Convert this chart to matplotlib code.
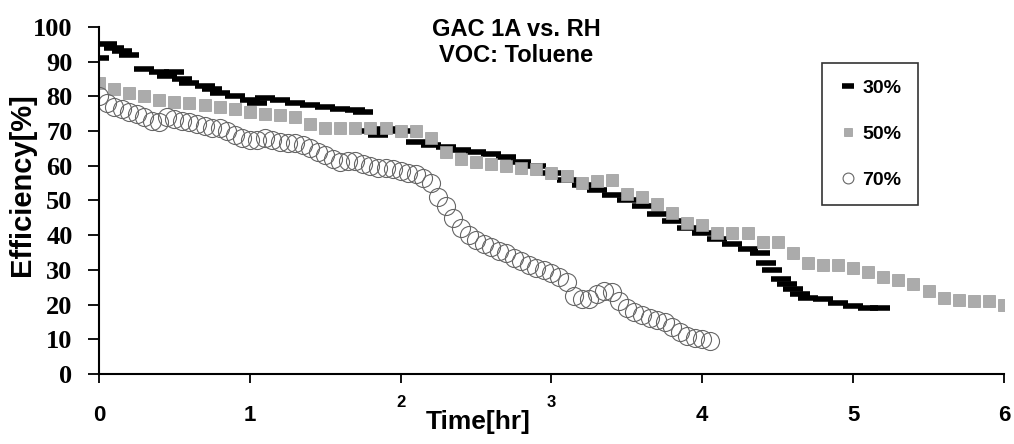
import matplotlib
matplotlib.use("Agg")
import matplotlib.pyplot as plt

# RH 30% - black dashes
t30 = [0.00, 0.05, 0.10, 0.15, 0.20, 0.30, 0.40, 0.45, 0.50, 0.55, 0.60, 0.70,
       0.75, 0.80, 0.90, 1.00, 1.05, 1.10, 1.20, 1.30, 1.40, 1.50, 1.60, 1.70,
       1.75, 1.80, 1.85, 1.90, 2.00, 2.10, 2.20, 2.30, 2.40, 2.50, 2.60, 2.70,
       2.80, 2.90, 3.00, 3.10, 3.20, 3.30, 3.40, 3.50, 3.60, 3.70, 3.80, 3.90,
       4.00, 4.10, 4.20, 4.30, 4.38, 4.42, 4.46, 4.52, 4.56, 4.60, 4.65, 4.70,
       4.80, 4.90, 5.00, 5.10, 5.18]
eff30 = [91, 95, 94, 93, 92, 88, 87, 86, 87, 85, 84, 83,
         82, 81, 80, 79, 78, 79.5, 79, 78, 77.5, 77, 76.5, 76,
         75.5, 70, 69, 70.5, 70, 67, 66, 65.5, 64.5, 64, 63.5, 62.5,
         61, 60, 58, 56, 54.5, 53, 51.5, 50, 48.5, 46, 44, 42,
         40.5, 39, 37.5, 36, 35, 32, 30, 27.5, 26, 24.5, 23, 22,
         21.5, 20.5, 19.5, 19, 19]

# RH 50% - grey squares
t50 = [0.0, 0.1, 0.2, 0.3, 0.4, 0.5, 0.6, 0.7, 0.8, 0.9, 1.0, 1.1, 1.2, 1.3,
       1.4, 1.5, 1.6, 1.7, 1.8, 1.9, 2.0, 2.1, 2.2, 2.3, 2.4, 2.5, 2.6, 2.7,
       2.8, 2.9, 3.0, 3.1, 3.2, 3.3, 3.4, 3.5, 3.6, 3.7, 3.8, 3.9, 4.0, 4.1,
       4.2, 4.3, 4.4, 4.5, 4.6, 4.7, 4.8, 4.9, 5.0, 5.1, 5.2, 5.3, 5.4, 5.5,
       5.6, 5.7, 5.8, 5.9, 6.0]
eff50 = [84, 82, 81, 80, 79, 78.5, 78, 77.5, 77, 76.5, 75.5, 75, 74.5, 74,
         72, 71, 71, 71, 71, 71, 70, 70, 68, 64, 62, 61, 60.5, 60,
         59.5, 59, 58, 57, 55, 55.5, 56, 52, 51, 49, 46.5, 43.5, 43, 40.5,
         40.5, 40.5, 38, 38, 35, 32, 31.5, 31.5, 30.5, 29.5, 28, 27, 26, 24,
         22, 21.3, 21, 21, 20]

# RH 70% - open circles
t70 = [0.00, 0.05, 0.10, 0.15, 0.20, 0.25, 0.30, 0.35, 0.40, 0.45, 0.50, 0.55,
       0.60, 0.65, 0.70, 0.75, 0.80, 0.85, 0.90, 0.95, 1.00, 1.05, 1.10, 1.15,
       1.20, 1.25, 1.30, 1.35, 1.40, 1.45, 1.50, 1.55, 1.60, 1.65, 1.70, 1.75,
       1.80, 1.85, 1.90, 1.95, 2.00, 2.05, 2.10, 2.15, 2.20, 2.25, 2.30, 2.35,
       2.40, 2.45, 2.50, 2.55, 2.60, 2.65, 2.70, 2.75, 2.80, 2.85, 2.90, 2.95,
       3.00, 3.05, 3.10, 3.15, 3.20, 3.25, 3.30, 3.35, 3.40, 3.45, 3.50, 3.55,
       3.60, 3.65, 3.70, 3.75, 3.80, 3.85, 3.90, 3.95, 4.00, 4.05]
eff70 = [80, 78, 77, 76.5, 75.5, 75, 74, 73, 72.5, 74, 73.5, 73,
         72.5, 72, 71.5, 71, 71, 70, 69, 68, 67.5, 67.5, 68, 67.5,
         67, 66.5, 66.5, 66, 65, 64, 63, 62, 61, 61.5, 61.5, 60.5,
         60, 59.5, 59.5, 59, 58.5, 58, 57.5, 56.5, 55, 51, 48.5, 45,
         42, 40, 38.5, 37.5, 36.5, 35.5, 35, 33.5, 32.5, 31.5, 30.5, 30,
         29, 28, 26.5, 22.5, 21.5, 21.5, 23, 24, 23.5, 21, 19, 18,
         17, 16, 15.5, 15, 13.5, 12, 11, 10.5, 10, 9.5]

xticks = [0, 1, 2, 3, 4, 5, 6]
yticks = [0, 10, 20, 30, 40, 50, 60, 70, 80, 90, 100]

sans = "Liberation Sans"
serif = "Liberation Serif"

fig = plt.figure(figsize=(10.14, 4.44), dpi=100)
ax = fig.add_axes([0.0976, 0.1577, 0.8925, 0.7815])

ax.plot(t30, eff30, linestyle="none", marker="_", markersize=14,
        markeredgewidth=4, color="black", label="30%")
ax.plot(t50, eff50, linestyle="none", marker="s", markersize=8.5,
        markerfacecolor="#ababab", markeredgecolor="#9a9a9a",
        markeredgewidth=0.5, label="50%")
ax.plot(t70, eff70, linestyle="none", marker="o", markersize=13,
        markerfacecolor="none", markeredgecolor="#666666",
        markeredgewidth=0.8, label="70%")

ax.set_xlim(0, 6)
ax.set_ylim(0, 100)
ax.set_xticks(xticks)
ax.set_yticks(yticks)
ax.set_xticklabels([str(v) for v in xticks], fontfamily=sans,
                   fontweight="bold", fontsize=16)
ax.set_yticklabels([str(v) for v in yticks], fontfamily=serif,
                   fontweight="bold", fontsize=19)
ax.tick_params(axis="x", direction="out", length=6.5, width=1.3, pad=16)
ax.tick_params(axis="y", direction="out", length=8, width=1.3, pad=11)

# the 2 and 3 labels sit smaller and higher next to the axis title
for lbl in ax.get_xticklabels():
    if lbl.get_text() in ("2", "3"):
        lbl.set_fontsize(12)
        lbl.set_y(0.03)

for side in ["top", "right"]:
    ax.spines[side].set_visible(False)
ax.spines["left"].set_linewidth(1.5)
ax.spines["bottom"].set_linewidth(1.5)

fig.text(0.509, 0.904, "GAC 1A vs. RH\nVOC: Toluene", ha="center",
         va="center", fontfamily=sans, fontweight="bold", fontsize=17,
         linespacing=1.15)
fig.text(0.472, 0.022, "Time[hr]", ha="center", va="bottom",
         fontfamily=sans, fontweight="bold", fontsize=19)
fig.text(0.022, 0.585, "Efficiency[%]", ha="center", va="center",
         rotation=90, fontfamily=sans, fontweight="bold", fontsize=21)

leg = ax.legend(loc="upper left", bbox_to_anchor=(0.811, 0.858),
                bbox_transform=fig.transFigure, frameon=True, fancybox=False,
                shadow=False, borderaxespad=0, markerscale=0.6,
                handlelength=0.9, handletextpad=0.3, labelspacing=1.45,
                borderpad=0.85, prop={"family": sans, "weight": "bold",
                                      "size": 14})
leg.get_frame().set_edgecolor("black")
leg.get_frame().set_linewidth(1.2)

fig.savefig("out.png", dpi=100)
